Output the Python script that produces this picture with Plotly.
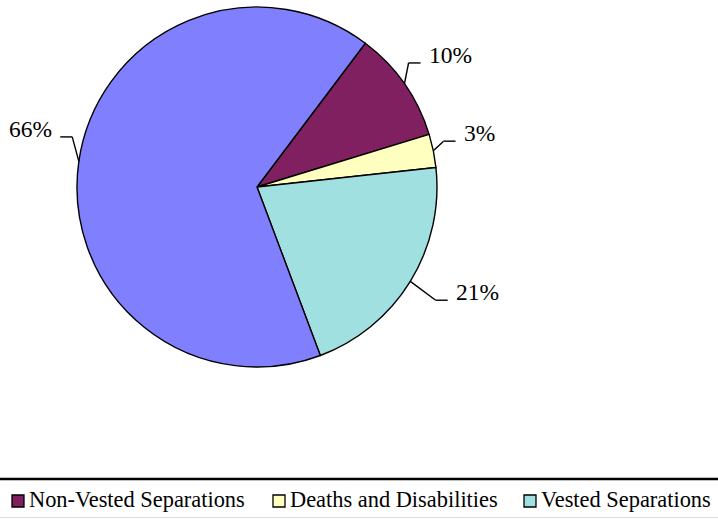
import math
import plotly.graph_objects as go

# ---- data ----
categories = ["Non-Vested Separations", "Deaths and Disabilities", "Vested Separations", "Other"]
values = [10, 3, 21, 66]
colors = ["#802060", "#FFFFC0", "#A0E0E0", "#8080FF"]
legend_items = ["Non-Vested Separations", "Deaths and Disabilities", "Vested Separations"]

# ---- layout constants (pixels) ----
W, H = 718, 519
CX, CY, R = 257, 187, 180
ROTATION = 37
FONT = "'Liberation Serif', 'Times New Roman', 'DejaVu Serif', serif"
LABEL_R = 218
LABEL_NUDGE = [(-9, -7), (-9, -10), (11, -9), (13, -27)]


def px(x):
    return x / W


def py(y):
    return 1 - y / H


fig = go.Figure()
fig.add_trace(go.Pie(
    labels=categories, values=values, sort=False, direction="clockwise",
    rotation=ROTATION, textinfo="none", hoverinfo="label+percent",
    marker=dict(colors=colors, line=dict(color="black", width=1.4)),
    domain=dict(x=[px(CX - R), px(CX + R)], y=[py(CY + R), py(CY - R)]),
    showlegend=False,
))

shapes = []
annotations = []
total = sum(values)
cum = 0
for i, v in enumerate(values):
    mid = math.radians(ROTATION + 360 * (cum + v / 2) / total)
    cum += v
    s, c = math.sin(mid), math.cos(mid)
    ex, ey = CX + R * s, CY - R * c
    lx = CX + LABEL_R * s + LABEL_NUDGE[i][0]
    ly = CY - LABEL_R * c + LABEL_NUDGE[i][1]
    side = 1 if s >= 0 else -1
    pct = f"{round(100 * v / total)}%"
    annotations.append(dict(
        x=px(lx), y=py(ly), xref="paper", yref="paper", text=pct, showarrow=False,
        xanchor="left" if side > 0 else "right", yanchor="middle",
        font=dict(family=FONT, size=23.5, color="black"),
    ))
    hy = ly + 8
    h1 = lx - side * 6
    h2 = lx - side * 18
    shapes.append(dict(type="line", xref="paper", yref="paper",
                       x0=px(h1), y0=py(hy), x1=px(h2), y1=py(hy),
                       line=dict(color="black", width=1.4)))
    shapes.append(dict(type="line", xref="paper", yref="paper",
                       x0=px(h2), y0=py(hy), x1=px(ex), y1=py(ey),
                       line=dict(color="black", width=1.4)))

# legend box
shapes.append(dict(type="line", xref="paper", yref="paper", x0=0, x1=1,
                   y0=py(479), y1=py(479), line=dict(color="black", width=2.5)))
shapes.append(dict(type="line", xref="paper", yref="paper", x0=0, x1=1,
                   y0=py(517.5), y1=py(517.5), line=dict(color="#DDDDDD", width=1)))
leg_x = [12, 273, 524]
for i, name in enumerate(legend_items):
    x0 = leg_x[i]
    shapes.append(dict(type="rect", xref="paper", yref="paper",
                       x0=px(x0), x1=px(x0 + 12), y0=py(507), y1=py(495),
                       fillcolor=colors[i], line=dict(color="black", width=1.3)))
    annotations.append(dict(
        x=px(x0 + 15), y=py(499), xref="paper", yref="paper", text=name,
        showarrow=False, xanchor="left", yanchor="middle",
        font=dict(family=FONT, size=22.4, color="black"),
    ))

fig.update_layout(
    width=W, height=H, margin=dict(l=0, r=0, t=0, b=0),
    paper_bgcolor="white", plot_bgcolor="white",
    font=dict(family=FONT),
    shapes=shapes, annotations=annotations, showlegend=False,
)
fig.write_html("out.html", config={"displayModeBar": False},
               post_script="document.body.style.margin='0';document.body.style.padding='0';")
